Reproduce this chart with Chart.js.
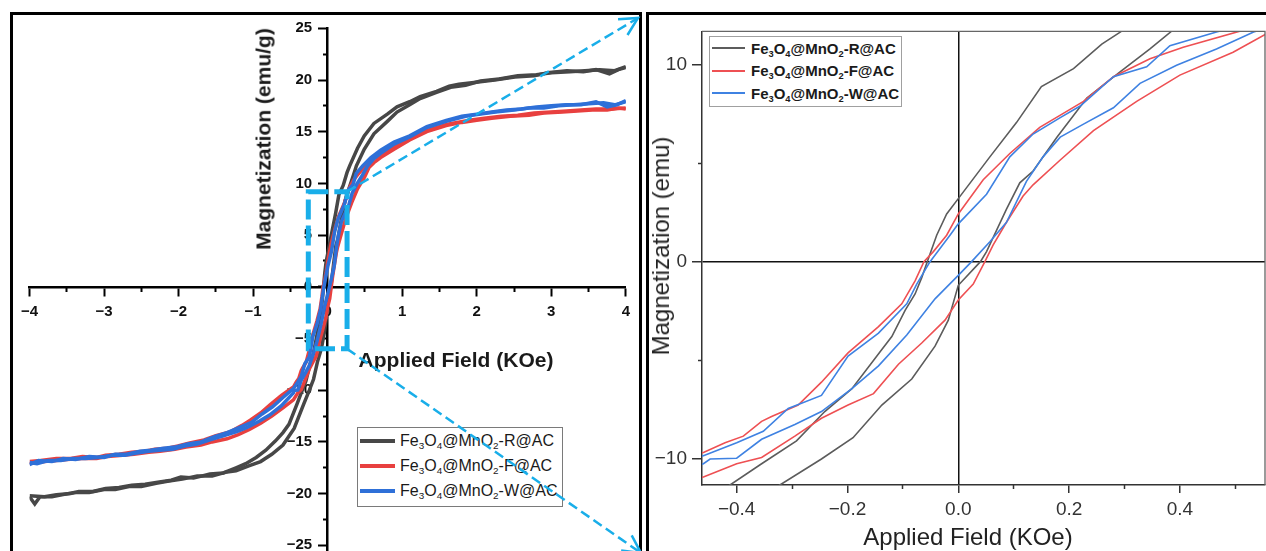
<!DOCTYPE html>
<html>
<head>
<meta charset="utf-8">
<script src="https://cdn.jsdelivr.net/npm/chart.js@4.4.1/dist/chart.umd.min.js"></script>
<style>
  html,body{margin:0;padding:0;background:#fff;overflow:hidden;}
  body{width:1266px;height:551px;position:relative;font-family:'Liberation Sans',Arial,sans-serif;color:#1a1a1a;}
  .panel{position:absolute;border:3px solid #000;box-sizing:border-box;}
  #panelL{left:10px;top:12px;width:632px;height:600px;}
  #panelR{left:646px;top:12px;width:640px;height:600px;}
  canvas{position:absolute;}
  #cvFull{left:13px;top:15px;}
  #cvZoom{left:649px;top:15px;}
  #overlay{left:0;top:0;pointer-events:none;}
  .ttl{position:absolute;white-space:nowrap;transform:translate(-50%,-50%);line-height:1;}
  .ttl.rot{transform:translate(-50%,-50%) rotate(-90deg);}
  .legend{position:absolute;background:#fff;box-sizing:border-box;}
  .legend .row{display:flex;align-items:center;white-space:nowrap;}
  .legend .sw{display:inline-block;flex:none;}
  sub{font-size:0.62em;vertical-align:-0.3em;line-height:0;}
  #legL{left:357px;top:427px;width:206px;height:80px;border:1.5px solid #7a7a7a;font-size:16px;}
  #legL .row{height:25px;}
  #legL .sw{width:35px;height:4px;margin-left:2px;margin-right:5px;}
  #legR{left:709px;top:36px;width:193px;height:71px;border:1px solid #a0a0a0;font-size:15px;font-weight:bold;}
  #legR .row{height:22.5px;}
  #legR .sw{width:33px;height:2px;margin-left:2px;margin-right:6px;}
</style>
</head>
<body>
<div class="panel" id="panelL"></div>
<div class="panel" id="panelR"></div>
<canvas id="cvFull" width="625" height="560"></canvas>
<canvas id="cvZoom" width="617" height="536"></canvas>

<div class="ttl rot" style="left:263px;top:139px;font-size:21px;font-weight:bold;">Magnetization (emu/g)</div>
<div class="ttl" style="left:456px;top:359px;font-size:21px;font-weight:bold;">Applied Field (KOe)</div>
<div class="ttl rot" style="left:661px;top:246px;font-size:24px;color:#222;">Magnetization (emu)</div>
<div class="ttl" style="left:968px;top:537px;font-size:24px;color:#222;">Applied Field (KOe)</div>

<div class="legend" id="legL"></div>
<div class="legend" id="legR"></div>
<canvas id="overlay" width="1266" height="551"></canvas>

<script>
// ===================== DADOS =====================
// campo aplicado (kOe) e magnetização de cada ramo do laço
const rDescH = [-4.00,-3.80,-3.64,-3.45,-3.34,-3.15,-2.98,-2.80,-2.63,-2.45,-2.28,-2.10,-1.97,-1.80,-1.58,-1.40,-1.23,-1.10,-0.96,-0.83,-0.70,-0.60,-0.52,-0.412,-0.355,-0.292,-0.241,-0.192,-0.138,-0.120,-0.096,-0.078,-0.066,-0.056,-0.039,-0.021,0,0.057,0.105,0.150,0.208,0.259,0.295,0.40,0.49,0.62,0.80,0.93,1.10,1.24,1.46,1.63,1.76,2.02,2.24,2.51,2.77,2.95,3.21,3.43,3.60,3.78,3.90,4.00];
const rDescM = [-20.2,-20.3,-20.1,-20.0,-19.8,-19.8,-19.5,-19.4,-19.2,-19.1,-18.9,-18.7,-18.4,-18.5,-18.1,-18.0,-17.5,-17.1,-16.5,-15.8,-14.9,-14.1,-13.3,-11.34,-10.26,-9.1,-7.61,-6.45,-4.46,-3.8,-2.47,-1.64,-0.81,0,1.34,2.42,3.2,5.32,7.06,8.89,9.8,11.04,11.7,13.4,14.6,15.8,16.7,17.4,17.9,18.4,18.9,19.4,19.6,19.8,20.0,20.3,20.4,20.7,20.9,20.8,21.0,20.6,21.0,21.2];
const rAscH  = [-4.00,-3.93,-3.86,-3.70,-3.55,-3.40,-3.20,-3.00,-2.85,-2.65,-2.50,-2.30,-2.15,-1.95,-1.75,-1.55,-1.35,-1.23,-1.05,-0.90,-0.75,-0.60,-0.45,-0.322,-0.247,-0.190,-0.138,-0.084,-0.042,-0.018,0,0.040,0.051,0.069,0.087,0.111,0.135,0.178,0.232,0.292,0.346,0.385,0.49,0.62,0.80,0.93,1.10,1.24,1.46,1.65,1.85,2.05,2.30,2.55,2.80,3.00,3.25,3.45,3.65,3.85,4.00];
const rAscM  = [-20.3,-21.0,-20.3,-20.3,-20.1,-19.9,-19.9,-19.6,-19.6,-19.3,-19.3,-19.0,-18.8,-18.6,-18.3,-18.3,-17.9,-17.8,-17.3,-16.9,-16.2,-15.3,-13.7,-11.34,-10.02,-8.94,-7.28,-5.96,-4.29,-2.97,-1.2,0,0.51,1.59,2.67,4.0,4.6,6.32,8.31,9.64,10.8,11.7,13.3,14.8,16.0,16.9,17.6,18.2,18.8,19.3,19.5,19.9,20.1,20.4,20.5,20.7,20.8,20.9,21.0,20.9,21.3];

const fDescH = [-4.00,-3.85,-3.64,-3.45,-3.29,-3.10,-2.98,-2.80,-2.63,-2.45,-2.32,-2.15,-2.01,-1.85,-1.66,-1.50,-1.30,-1.15,-1.04,-0.90,-0.77,-0.62,-0.460,-0.421,-0.388,-0.355,-0.337,-0.289,-0.247,-0.199,-0.144,-0.102,-0.078,-0.062,-0.045,-0.021,0,0.045,0.093,0.147,0.226,0.280,0.346,0.406,0.508,0.60,0.71,0.89,1.10,1.33,1.59,1.90,2.10,2.33,2.55,2.77,3.00,3.21,3.40,3.60,3.80,4.00];
const fDescM = [-16.9,-16.8,-16.6,-16.6,-16.4,-16.5,-16.3,-16.2,-16.0,-15.9,-15.7,-15.6,-15.4,-15.1,-14.8,-14.4,-14.0,-13.4,-12.9,-12.2,-11.4,-10.5,-9.69,-9.19,-8.86,-8.11,-7.86,-7.28,-6.12,-4.63,-3.3,-2.14,-0.98,0,0.51,1.34,2.42,4.16,5.49,6.82,8.14,9.39,10.3,10.88,11.7,12.3,12.8,13.6,14.4,15.1,15.7,16.1,16.3,16.5,16.6,16.8,16.9,17.0,17.1,17.2,17.2,17.3];
const fAscH  = [-4.00,-3.80,-3.64,-3.50,-3.30,-3.10,-2.95,-2.75,-2.60,-2.40,-2.25,-2.05,-1.90,-1.70,-1.55,-1.35,-1.20,-1.05,-0.90,-0.75,-0.60,-0.460,-0.400,-0.355,-0.295,-0.247,-0.199,-0.153,-0.108,-0.066,-0.024,0,0.027,0.048,0.063,0.087,0.117,0.135,0.184,0.244,0.322,0.400,0.496,0.554,0.62,0.71,0.89,1.10,1.33,1.59,1.80,2.00,2.20,2.45,2.70,2.90,3.15,3.35,3.55,3.75,3.90,4.00];
const fAscM  = [-17.1,-16.9,-16.8,-16.7,-16.6,-16.6,-16.4,-16.3,-16.2,-16.0,-15.9,-15.7,-15.5,-15.3,-15.0,-14.7,-14.3,-13.8,-13.2,-12.5,-11.7,-10.93,-10.26,-9.94,-8.86,-7.95,-7.28,-6.7,-5.21,-4.13,-2.97,-1.95,-1.14,0,0.85,2.0,3.33,3.9,5.16,6.65,8.14,9.47,10.63,11.54,12.0,12.5,13.3,14.2,15.0,15.6,15.9,16.1,16.3,16.5,16.6,16.8,16.9,17.0,17.1,17.1,17.3,17.2];

const wDescH = [-4.00,-3.88,-3.70,-3.55,-3.38,-3.20,-3.00,-2.85,-2.70,-2.52,-2.38,-2.20,-2.05,-1.88,-1.70,-1.52,-1.35,-1.18,-1.02,-0.88,-0.74,-0.60,-0.460,-0.400,-0.352,-0.307,-0.247,-0.199,-0.144,-0.093,-0.075,-0.051,-0.015,0,0.051,0.093,0.135,0.184,0.220,0.280,0.340,0.382,0.466,0.58,0.71,0.89,1.10,1.33,1.59,1.80,2.00,2.20,2.40,2.60,2.80,3.00,3.20,3.40,3.60,3.75,3.88,4.00];
const wDescM = [-17.2,-16.8,-16.9,-16.6,-16.7,-16.4,-16.5,-16.2,-16.2,-15.9,-15.8,-15.6,-15.5,-15.2,-15.0,-14.5,-14.1,-13.6,-13.1,-12.3,-11.6,-10.7,-9.85,-9.19,-8.61,-7.45,-6.79,-4.79,-3.63,-2.14,-1.14,0,1.34,1.92,3.42,5.32,6.48,7.31,7.9,9.39,9.89,10.96,11.66,12.5,13.2,14.0,14.6,15.5,16.1,16.5,16.7,16.9,17.1,17.2,17.4,17.5,17.6,17.6,17.9,17.4,17.6,18.0];
const wAscH  = [-4.00,-3.90,-3.75,-3.58,-3.42,-3.25,-3.08,-2.90,-2.72,-2.58,-2.40,-2.25,-2.08,-1.92,-1.75,-1.58,-1.40,-1.22,-1.08,-0.92,-0.78,-0.62,-0.460,-0.448,-0.400,-0.355,-0.295,-0.247,-0.192,-0.144,-0.093,-0.042,0,0.024,0.057,0.087,0.123,0.153,0.184,0.226,0.280,0.328,0.394,0.466,0.533,0.62,0.71,0.89,1.10,1.33,1.59,1.85,2.05,2.25,2.50,2.70,2.90,3.10,3.30,3.50,3.70,3.85,4.00];
const wAscM  = [-17.0,-17.1,-16.8,-16.8,-16.6,-16.6,-16.5,-16.3,-16.3,-16.1,-15.9,-15.8,-15.7,-15.4,-15.2,-14.8,-14.4,-14.0,-13.6,-13.0,-12.4,-11.5,-10.26,-10.02,-9.98,-9.02,-8.27,-7.61,-6.45,-5.29,-3.72,-1.89,-0.7,0,1.01,2.0,4.08,5.32,6.32,6.98,7.81,9.05,9.97,10.8,11.66,12.4,12.9,13.8,14.5,15.4,16.0,16.5,16.7,16.9,17.1,17.3,17.3,17.5,17.6,17.7,17.8,17.6,17.9];

const seriesLabels = ['Fe<sub>3</sub>O<sub>4</sub>@MnO<sub>2</sub>-R@AC','Fe<sub>3</sub>O<sub>4</sub>@MnO<sub>2</sub>-F@AC','Fe<sub>3</sub>O<sub>4</sub>@MnO<sub>2</sub>-W@AC'];

// ticks
const fullFieldTicks = [-4,-3,-2,-1,0,1,2,3,4];
const fullFieldMinor = [-3.5,-2.5,-1.5,-0.5,0.5,1.5,2.5,3.5];
const fullMagTicks   = [-25,-20,-15,-10,-5,0,5,10,15,20,25];
const fullMagMinor   = [-22.5,-17.5,-12.5,-7.5,-2.5,2.5,7.5,12.5,17.5,22.5];
const zoomFieldTicks = [-0.4,-0.2,0,0.2,0.4];
const zoomFieldMinor = [-0.3,-0.1,0.1,0.3,0.5];
const zoomMagTicks   = [-10,0,10];
const zoomMagMinor   = [-5,5];

// região ampliada marcada no gráfico da esquerda
const boxField = [-0.26, 0.26];
const boxMag   = [-6.0, 9.2];

const COLORS_FULL = ['#474747','#e8403f','#2e70d8'];
const COLORS_ZOOM = ['#5c5c5c','#ee5053','#3f82e2'];
const FONT = "'Liberation Sans', Arial, sans-serif";

// ===================== HELPERS =====================
const branches = [
  {s:0,h:rDescH,m:rDescM},{s:0,h:rAscH,m:rAscM},
  {s:1,h:fDescH,m:fDescM},{s:1,h:fAscH,m:fAscM},
  {s:2,h:wDescH,m:wDescM},{s:2,h:wAscH,m:wAscM}
];
const pts = (h,m)=>h.map((v,i)=>({x:v,y:m[i]}));
const fixTicks = list => s => { s.ticks = list.map(v=>({value:v})); };
const minus = v => v<0 ? '\u2212'+Math.abs(v) : ''+v;
// eixo central: o Chart.js não afasta os rótulos do eixo y, então o espaço vai no texto
const minusPad = v => minus(v)+'   \u2009';

function makeSets(colors, width){
  return branches.map(b=>({
    data:pts(b.h,b.m), borderColor:colors[b.s], backgroundColor:colors[b.s],
    borderWidth:width, showLine:true, pointRadius:0, tension:0, fill:false, order:2-b.s
  }));
}

function buildLegend(id, colors){
  document.getElementById(id).innerHTML = seriesLabels.map((t,i)=>
    `<div class="row"><span class="sw" style="background:${colors[i]}"></span><span>${t}</span></div>`).join('');
}

// ===================== GRÁFICO COMPLETO =====================
const minorAxis = (axis, min, max, pos, list, len, fitKey) => ({
  type:'linear', axis, min, max, position:pos,
  afterFit:s=>{ s[fitKey]=0; }, afterBuildTicks:fixTicks(list),
  border:{display:false},
  grid:{drawOnChartArea:false, color:'#000', tickLength:len, tickWidth:2},
  ticks:{display:false}
});

const fullChart = new Chart(document.getElementById('cvFull'), {
  type:'scatter',
  data:{datasets:makeSets(COLORS_FULL, 3.5)},
  options:{
    responsive:false, animation:false, events:[],
    layout:{padding:{left:9.7,right:8,top:13.3,bottom:9}},
    plugins:{legend:{display:false},tooltip:{enabled:false}},
    scales:{
      x:{type:'linear',min:-4,max:4,position:{y:0},
        afterFit:s=>{s.height=0;}, afterBuildTicks:fixTicks(fullFieldTicks),
        border:{color:'#000',width:2.5},
        grid:{drawOnChartArea:false,color:'#000',tickLength:8,tickWidth:2},
        ticks:{color:'#111',font:{family:FONT,weight:'bold',size:15},padding:8,maxRotation:0,autoSkip:false,callback:minus}},
      xMinor:minorAxis('x',-4,4,{y:0},fullFieldMinor,5,'height'),
      y:{type:'linear',min:-27,max:25,position:{x:0},
        afterFit:s=>{s.width=0;}, afterBuildTicks:fixTicks(fullMagTicks),
        border:{color:'#000',width:2.5},
        grid:{drawOnChartArea:false,color:'#000',tickLength:8,tickWidth:2},
        ticks:{color:'#111',font:{family:FONT,weight:'bold',size:15},padding:0,autoSkip:false,callback:minusPad}},
      yMinor:minorAxis('y',-27,25,{x:0},fullMagMinor,5,'width')
    }
  }
});

// ===================== GRÁFICO AMPLIADO =====================
const framePlugin = {
  id:'frame',
  afterDatasetsDraw(chart){
    const a=chart.chartArea, ctx=chart.ctx;
    ctx.save(); ctx.strokeStyle='#666'; ctx.lineWidth=1.3;
    ctx.beginPath(); ctx.moveTo(a.left,a.top); ctx.lineTo(a.right,a.top); ctx.lineTo(a.right,a.bottom); ctx.stroke();
    ctx.restore();
  }
};
const zeroLine = c => (c.tick && c.tick.value===0) ? '#111' : 'rgba(0,0,0,0)';
const zoomMinor = (axis, min, max, pos, list, fitKey) => ({
  type:'linear', axis, min, max, position:pos, weight:0,
  afterFit:s=>{ s[fitKey]=0; }, afterBuildTicks:fixTicks(list),
  border:{display:false},
  grid:{drawOnChartArea:false, color:'#333', tickLength:4, tickWidth:1.5},
  ticks:{display:false}
});

const zoomChart = new Chart(document.getElementById('cvZoom'), {
  type:'scatter',
  data:{datasets:makeSets(COLORS_ZOOM, 1.6)},
  plugins:[framePlugin],
  options:{
    responsive:false, animation:false, events:[],
    layout:{padding:{left:0,right:1,top:7,bottom:0}},
    plugins:{legend:{display:false},tooltip:{enabled:false}},
    scales:{
      x:{type:'linear',min:-0.4626,max:0.5536,position:'bottom',weight:1,
        afterFit:s=>{s.height=66;}, afterBuildTicks:fixTicks(zoomFieldTicks),
        border:{color:'#333',width:1.5},
        grid:{color:zeroLine,lineWidth:1.5,tickColor:'#333',tickLength:8,tickWidth:1.5},
        ticks:{color:'#333',font:{family:FONT,size:19},padding:5,maxRotation:0,autoSkip:false,
          callback:v=>(v<0?'\u2212':'')+Math.abs(v).toFixed(1)}},
      xMinor:zoomMinor('x',-0.4626,0.5536,'bottom',zoomFieldMinor,'height'),
      y:{type:'linear',min:-11.34,max:11.69,position:'left',weight:1,
        afterFit:s=>{s.width=53;}, afterBuildTicks:fixTicks(zoomMagTicks),
        border:{color:'#333',width:1.5},
        grid:{color:zeroLine,lineWidth:1.5,tickColor:'#333',tickLength:10,tickWidth:1.5},
        ticks:{color:'#333',font:{family:FONT,size:19},padding:5,autoSkip:false,callback:minus}},
      yMinor:zoomMinor('y',-11.34,11.69,'left',zoomMagMinor,'width')
    }
  }
});

buildLegend('legL', COLORS_FULL);
buildLegend('legR', COLORS_ZOOM);

// ===================== MARCAÇÃO DA AMPLIAÇÃO =====================
function arrow(ctx,xa,ya,xb,yb){
  ctx.save(); ctx.lineWidth=2.5; ctx.setLineDash([10,5]);
  ctx.beginPath(); ctx.moveTo(xa,ya); ctx.lineTo(xb,yb); ctx.stroke();
  const a=Math.atan2(yb-ya,xb-xa), L=20;
  ctx.setLineDash([]); ctx.beginPath();
  ctx.moveTo(xb-L*Math.cos(a-0.48), yb-L*Math.sin(a-0.48));
  ctx.lineTo(xb,yb);
  ctx.lineTo(xb-L*Math.cos(a+0.48), yb-L*Math.sin(a+0.48));
  ctx.stroke(); ctx.restore();
}

function drawZoomMarks(){
  const ctx=document.getElementById('overlay').getContext('2d');
  const cv=document.getElementById('cvFull').getBoundingClientRect();
  const pr=document.getElementById('panelL').getBoundingClientRect();
  const sx=fullChart.scales.x, sy=fullChart.scales.y;
  const X=v=>cv.left+sx.getPixelForValue(v), Y=v=>cv.top+sy.getPixelForValue(v);
  const x0=X(boxField[0]), x1=X(boxField[1]), y0=Y(boxMag[1]), y1=Y(boxMag[0]);
  ctx.strokeStyle='#19aee9';
  ctx.save(); ctx.lineWidth=5; ctx.setLineDash([20,6]);
  ctx.strokeRect(x0,y0,x1-x0,y1-y0); ctx.restore();
  arrow(ctx, x1, y0, pr.right-4, pr.top+6);
  arrow(ctx, x1, y1, pr.right-1, 553);
}
drawZoomMarks();
</script>
</body>
</html>
